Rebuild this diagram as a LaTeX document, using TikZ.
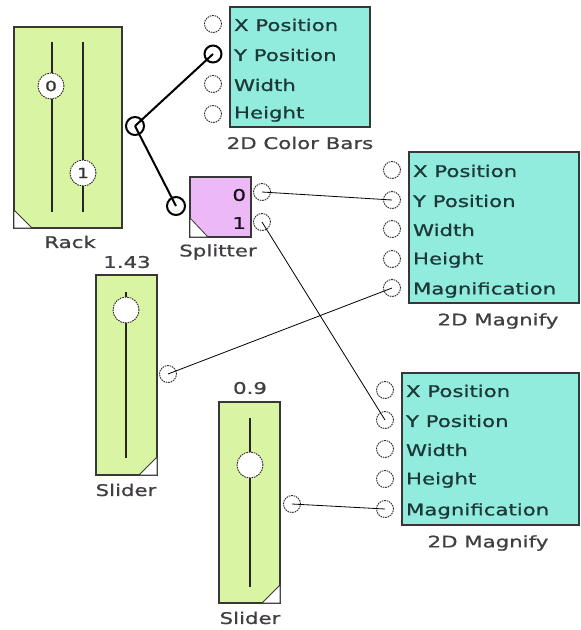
\documentclass[tikz,border=0pt]{standalone}
\usepackage{fontspec}
\newfontfamily\lbl[FakeStretch=1.33,FakeBold=0.9]{DejaVu Sans}
\definecolor{gr}{RGB}{217,245,163}
\definecolor{cy}{RGB}{145,236,222}
\definecolor{pk}{RGB}{236,184,246}
\definecolor{boxtext}{RGB}{30,55,55}
\definecolor{captext}{RGB}{66,62,68}
\definecolor{edge}{RGB}{55,55,55}
\begin{document}
\begin{tikzpicture}[x=1pt,y=-1pt,
  every node/.style={inner sep=0pt, outer sep=0pt},
  box/.style={draw=edge, line width=1.1pt, anchor=north west},
  port/.style={circle, draw=black!85, dash pattern=on 1.6pt off 0.9pt, line width=0.9pt, fill=white, minimum size=17pt},
  bport/.style={circle, draw=black, line width=2pt, fill=white, minimum size=18pt},
  knob/.style={circle, draw=black!85, dash pattern=on 1.6pt off 0.9pt, line width=0.9pt, fill=white, minimum size=26pt, font=\lbl\fontsize{14}{16}\selectfont, text=black!80},
  inlbl/.style={font=\lbl\fontsize{16}{18}\selectfont, text=boxtext, anchor=west},
  caplbl/.style={font=\lbl\fontsize{16}{18}\selectfont, text=captext},
  tri/.style={draw=edge, line width=0.8pt, fill=white},
  track/.style={draw=black!85, line width=1.2pt},
  wire/.style={line width=0.8pt, black},
  bwire/.style={line width=2pt, black}
]
\useasboundingbox[fill=white] (0,0) rectangle (581,630);

% Rack
\node[box, fill=gr, minimum width=108pt, minimum height=201pt] (rack) at (14,27) {};
\draw[track] (52,42) -- (52,212);
\draw[track] (83,42) -- (83,212);
\node[knob] (k0) at (51,86) {0};
\node[knob] (k1) at (83,173) {1};
\draw[tri] (14,210) -- (32,228) -- (14,228) -- cycle;
\node[caplbl] (rackcap) at (70,242) {Rack};
\node[bport] (rp) at (135,126) {};

% 2D Color Bars
\node[box, fill=cy, minimum width=140pt, minimum height=120pt] (cb) at (230,7) {};
\node[port] (cbx) at (213,24) {};
\node[bport, minimum size=17pt] (cby) at (213,54) {};
\node[port] (cbw) at (213,84) {};
\node[port] (cbh) at (213,114) {};
\node[inlbl] (cbxl) at (234,25) {X Position};
\node[inlbl] (cbyl) at (234,55) {Y Position};
\node[inlbl] (cbwl) at (234,85) {Width};
\node[inlbl] (cbhl) at (234,114) {Height};
\node[caplbl] (cbcap) at (300,143) {2D Color Bars};

% Splitter
\node[box, fill=pk, minimum width=61pt, minimum height=60pt] (sp) at (190,177) {};
\draw[tri] (190,218) -- (208,237) -- (190,237) -- cycle;
\node[inlbl, anchor=east, text=black!75!pk!40!black] (sp0l) at (246,195) {0};
\node[inlbl, anchor=east, text=black!75!pk!40!black] (sp1l) at (246,223) {1};
\node[port] (sp0) at (262,192) {};
\node[port] (sp1) at (262,222) {};
\node[bport] (spin) at (176,206) {};
\node[caplbl] (spcap) at (218,252) {Splitter};

% 2D Magnify 1
\node[box, fill=cy, minimum width=170pt, minimum height=151pt] (m1) at (409,152) {};
\node[port] (m1x) at (392,170) {};
\node[port] (m1y) at (392,200) {};
\node[port] (m1w) at (392,229) {};
\node[port] (m1h) at (392,259) {};
\node[port] (m1m) at (392,288) {};
\node[inlbl] (m1xl) at (413,171) {X Position};
\node[inlbl] (m1yl) at (413,201) {Y Position};
\node[inlbl] (m1wl) at (413,230) {Width};
\node[inlbl] (m1hl) at (413,260) {Height};
\node[inlbl] (m1ml) at (413,290) {Magnification};
\node[caplbl] (m1cap) at (498,321) {2D Magnify};

% 2D Magnify 2
\node[box, fill=cy, minimum width=177pt, minimum height=152pt] (m2) at (402,373) {};
\node[port] (m2x) at (385,390) {};
\node[port] (m2y) at (385,420) {};
\node[port] (m2w) at (385,449) {};
\node[port] (m2h) at (385,479) {};
\node[port] (m2m) at (385,509) {};
\node[inlbl] (m2xl) at (406,391) {X Position};
\node[inlbl] (m2yl) at (406,421) {Y Position};
\node[inlbl] (m2wl) at (406,450) {Width};
\node[inlbl] (m2hl) at (406,480) {Height};
\node[inlbl] (m2ml) at (406,511) {Magnification};
\node[caplbl] (m2cap) at (488,543) {2D Magnify};

% Slider 1
\node[caplbl] (s1v) at (127,262) {1.43};
\node[box, fill=gr, minimum width=61pt, minimum height=200pt] (s1) at (96,275) {};
\draw[track] (126,292) -- (126,458);
\node[knob] (s1k) at (126,310) {};
\draw[tri] (157,457) -- (157,475) -- (139,475) -- cycle;
\node[port] (s1p) at (168,374) {};
\node[caplbl] (s1cap) at (126,490) {Slider};

% Slider 2
\node[caplbl] (s2v) at (250,388) {0.9};
\node[box, fill=gr, minimum width=61pt, minimum height=201pt] (s2) at (219,402) {};
\draw[track] (250,418) -- (250,587);
\node[knob] (s2k) at (250,465) {};
\draw[tri] (280,585) -- (280,603) -- (262,603) -- cycle;
\node[port] (s2p) at (292,504) {};
\node[caplbl] (s2cap) at (250,618) {Slider};

% Wires
\draw[bwire] (rp.center) -- (cby.center);
\draw[bwire] (rp.center) -- (spin.center);
\draw[wire] (sp0.center) -- (m1y.center);
\draw[wire] (sp1.center) -- (m2y.center);
\draw[wire] (s1p.center) -- (m1m.center);
\draw[wire] (s2p.center) -- (m2m.center);
\end{tikzpicture}
\end{document}
